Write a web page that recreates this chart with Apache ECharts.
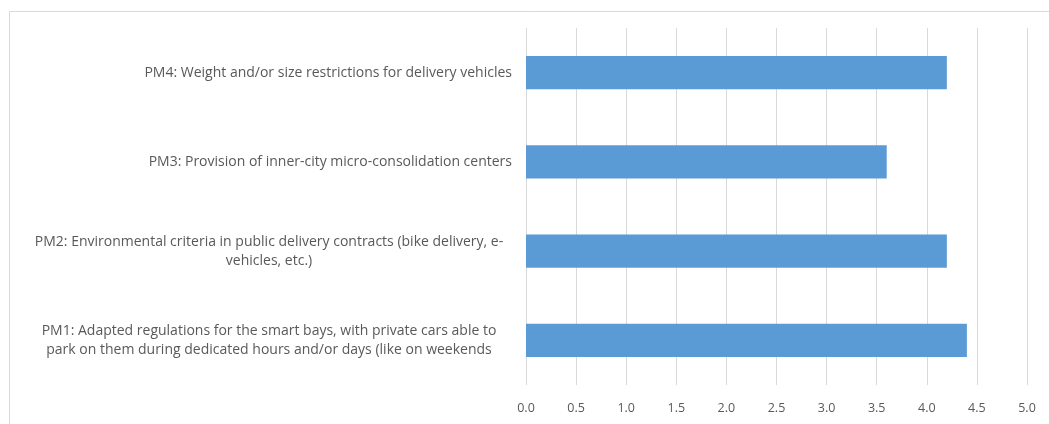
<!DOCTYPE html>
<html>
<head>
<meta charset="utf-8">
<style>
  html, body { margin: 0; padding: 0; background: #ffffff; }
  #chart { width: 1049px; height: 424px; }
</style>
<script src="https://cdn.jsdelivr.net/npm/echarts@6/dist/echarts.min.js"></script>
</head>
<body>
<div id="chart"></div>
<script>
// Policy measures, bottom to top (line breaks as shown on the axis)
const categories = [
  'PM1: Adapted regulations for the smart bays, with private cars able to\npark on them during dedicated hours and/or days (like on weekends',
  'PM2: Environmental criteria in public delivery contracts (bike delivery, e-\nvehicles, etc.)',
  'PM3: Provision of inner-city micro-consolidation centers',
  'PM4: Weight and/or size restrictions for delivery vehicles'
];
// Mean rating per measure
const values = [4.4, 4.2, 3.6, 4.2];
// Value axis range
const axisMin = 0;
const axisMax = 5;
const axisStep = 0.5;

const chart = echarts.init(document.getElementById('chart'), null, { renderer: 'canvas' });

const labelFont = '"Open Sans", "Noto Sans", sans-serif';
const textColor = '#595959';
const gridColor = '#D9D9D9';

chart.setOption({
  animation: false,
  backgroundColor: '#ffffff',
  graphic: [{
    type: 'rect',
    left: 7, top: 9,
    shape: { width: 1060, height: 440 },
    style: { fill: 'none', stroke: gridColor, lineWidth: 1 },
    silent: true
  }],
  grid: { left: 526, right: 22, top: 28, bottom: 39, containLabel: false },
  xAxis: {
    type: 'value',
    min: axisMin,
    max: axisMax,
    interval: axisStep,
    axisLine: { show: false },
    axisTick: { show: false },
    splitLine: { show: true, lineStyle: { color: gridColor, width: 1 } },
    axisLabel: {
      margin: 17,
      color: textColor,
      fontFamily: labelFont,
      fontSize: 12.5,
      formatter: v => v.toFixed(1)
    }
  },
  yAxis: {
    type: 'category',
    data: categories,
    axisLine: { show: false },
    axisTick: { show: false },
    splitLine: { show: false },
    axisLabel: {
      margin: 14,
      color: textColor,
      fontFamily: labelFont,
      fontSize: 14,
      lineHeight: 19,
      align: 'right',
      formatter: v => {
        if (v.indexOf('\n') < 0) return v;
        return v.split('\n').map(l => '{c|' + l + '}').join('\n');
      },
      rich: {
        c: {
          width: 486,
          align: 'center',
          color: textColor,
          fontFamily: labelFont,
          fontSize: 14,
          lineHeight: 19
        }
      }
    }
  },
  series: [{
    type: 'bar',
    data: values,
    barCategoryGap: '63%',
    itemStyle: { color: '#5B9BD5' },
    silent: true
  }]
});
</script>
</body>
</html>
